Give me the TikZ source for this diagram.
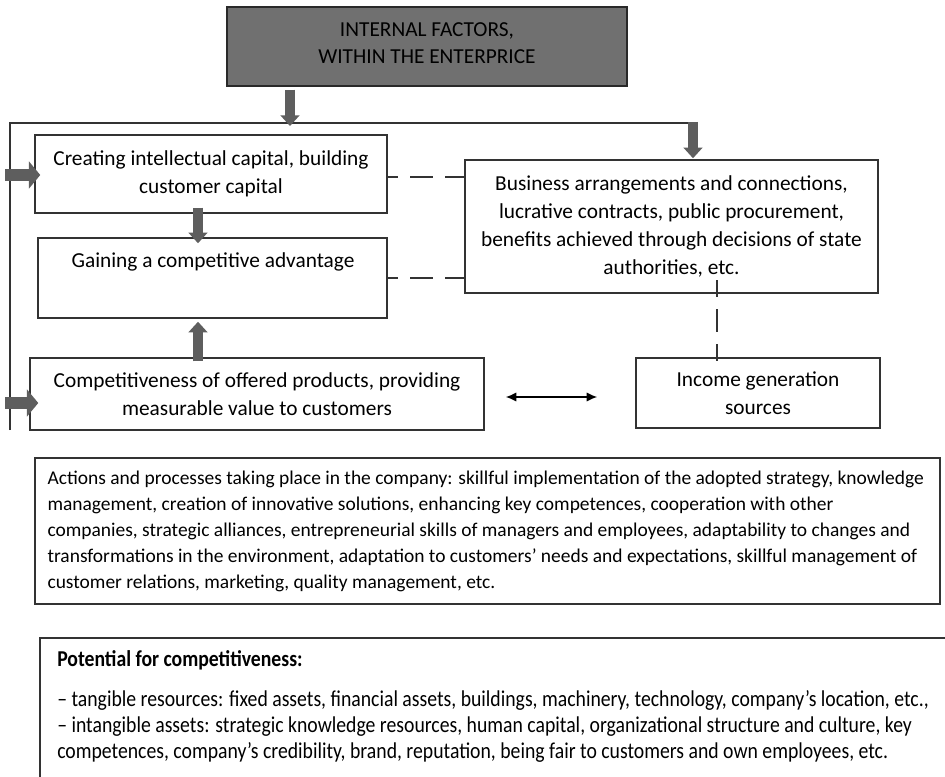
\documentclass[tikz,border=0pt]{standalone}
\usepackage{fontspec}
\setmainfont{Carlito}
\newfontfamily\condfont{Carlito}[FakeStretch=0.87]
\usetikzlibrary{arrows.meta,calc}

\definecolor{arrowgray}{HTML}{5E5E5E}
\definecolor{headfill}{HTML}{707070}
\definecolor{edge}{HTML}{333333}

\tikzset{
  box/.style={draw=edge, line width=1.1pt, inner sep=0pt, align=center,
              font=\fontsize{16}{21}\selectfont},
  headbox/.style={box, fill=headfill, draw=edge!80!black},
  txt/.style={inner sep=0pt},
  blockarrow/.style={draw=arrowgray, line width=7pt,
                     -{Triangle[length=8pt,width=14pt,fill=arrowgray]}},
  sidearrow/.style={draw=arrowgray, line width=9pt,
                    -{Triangle[length=8.5pt,width=20pt,fill=arrowgray]}},
  link/.style={draw=edge, line width=1.1pt},
  dashlink/.style={draw=edge, line width=1.1pt, dash pattern=on 17pt off 9pt, dash phase=9pt},
  twoway/.style={draw=black, line width=1.1pt, {Latex[length=8pt,width=7pt]}-{Latex[length=8pt,width=7pt]}},
}

\begin{document}
\begin{tikzpicture}[x=0.75pt,y=-0.75pt]
\useasboundingbox (0,0) rectangle (945,777);

% boxes
\node[headbox, minimum width=300pt, minimum height=59.25pt] (top) at (427,46.5) {};
\node[txt, align=center, font=\fontsize{16}{20.5}\selectfont] (topt) at (427,43)
  {INTERNAL FACTORS,\\WITHIN THE ENTERPRICE};
\node[box, minimum width=264pt, minimum height=58.5pt] (b1) at (211,174)
  {Creating intellectual capital, building\\customer capital};
\node[box, minimum width=261.75pt, minimum height=60pt] (b2) at (212.5,278) {};
\node[txt, font=\fontsize{16}{21}\selectfont] (b2t) at (213,262) {Gaining a competitive advantage};
\node[box, minimum width=340.5pt, minimum height=54pt] (b3) at (257,394)
  {Competitiveness of offered products, providing\\measurable value to customers};
\node[box, minimum width=309.75pt, minimum height=99.75pt] (biz) at (671.5,226.5)
  {Business arrangements and connections,\\lucrative contracts, public procurement,\\benefits achieved through decisions of state\\authorities, etc.};
\node[box, minimum width=183pt, minimum height=52.5pt] (inc) at (758,393)
  {Income generation\\sources};

% actions box
\node[box, minimum width=678.75pt, minimum height=109.5pt] (act) at (487.5,531) {};
\node[txt, anchor=west, align=left, font=\fontsize{14.6}{19.5}\selectfont] (actt) at ($(act.west)+(13,0)$)
  {Actions and processes taking place in the company: skillful implementation of the adopted strategy, knowledge\\
   management, creation of innovative solutions, enhancing key competences, cooperation with other\\
   companies, strategic alliances, entrepreneurial skills of managers and employees, adaptability to changes and\\
   transformations in the environment, adaptation to customers’ needs and expectations, skillful management of\\
   customer relations, marketing, quality management, etc.};

% potential box, open at the right and bottom edges
\node[inner sep=0pt, minimum width=690pt, minimum height=120pt, anchor=north west] (pot) at (40,638) {};
\draw[link] (pot.south west) -- (pot.north west) -- (pot.north east);
\node[txt, anchor=north west, align=left, font=\condfont\fontsize{17}{19.5}\selectfont] (pott) at (57,650)
  {\textbf{Potential for competitiveness:}\\[11pt]%
   – tangible resources: fixed assets, financial assets, buildings, machinery, technology, company’s location, etc.,\\
   – intangible assets: strategic knowledge resources, human capital, organizational structure and culture, key\\
   competences, company’s credibility, brand, reputation, being fair to customers and own employees, etc.};

% feedback frame
\coordinate (lt) at (10,123);
\coordinate (rt) at (693,123);
\coordinate (lb) at (10,430);
\coordinate (split) at (290,123);
\draw[link] (lb) -- (lt) -- (rt);
\draw[blockarrow] ($(top.south -| split)+(0,3)$) -- ($(split)+(0,3)$);
\draw[blockarrow] ($(rt)+(0,-1)$) -- ($(biz.north -| rt)+(0,-1)$);

% inputs from the frame
\coordinate (in1) at (5,175);
\coordinate (in3) at (5,403);
\draw[sidearrow] (in1) -- ($(b1.west |- in1)+(6,0)$);
\draw[sidearrow] (in3) -- ($(b3.west |- in3)+(9,0)$);

% vertical flow between the left boxes
\coordinate (mid) at (198,0);
\draw[blockarrow] ($(b1.south -| mid)+(0,-6)$) -- ($(b2.north -| mid)+(0,6)$);
\draw[blockarrow] ($(b3.north -| mid)+(0,4)$) -- ($(b2.south -| mid)+(0,3)$);

% dashed links
\coordinate (d1) at ($(b1.east)+(0,3)$);
\draw[dashlink] (d1) -- (d1 -| biz.west);
\draw[dashlink] (b2.east) -- (b2.east -| biz.west);
\coordinate (dv) at (717,280);
\draw[dashlink, dash phase=4pt] (dv) -- ($(inc.north -| dv)+(0,4)$);

% two-way link
\draw[twoway] ($(b3.east)+(21,3)$) -- ($(inc.west)+(-38,4)$);
\end{tikzpicture}
\end{document}
